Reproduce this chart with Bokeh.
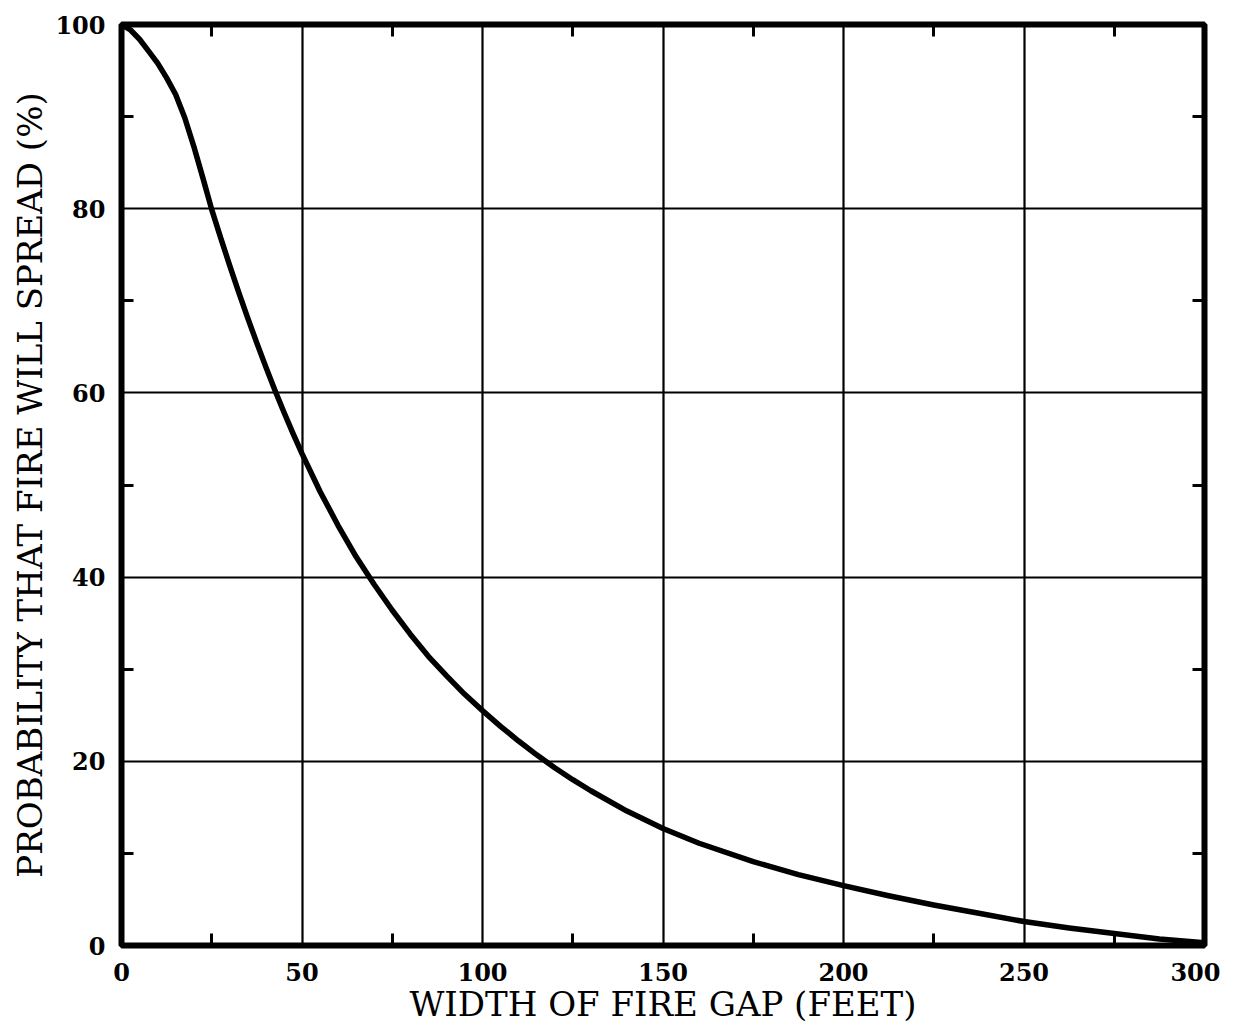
from bokeh.plotting import figure
from bokeh.models import LinearAxis, FixedTicker, Range1d
from bokeh.embed import file_html
from bokeh.resources import INLINE

# Data
gap_ft = [0, 2.5, 5, 7.5, 10, 12.5, 15, 17.5, 20, 22.5, 25, 27.5, 30, 32.5, 35,
          37.5, 40, 42.5, 45, 47.5, 50, 55, 60, 65, 70, 75, 80, 85, 90, 95, 100,
          105, 110, 115, 120, 125, 130, 140, 150, 160, 175, 187.5, 200, 212.5,
          225, 237.5, 250, 262.5, 275, 287.5, 300]
prob_pct = [100, 99.4, 98.4, 97.1, 95.8, 94.2, 92.4, 89.9, 86.8, 83.4, 79.9, 76.8,
            73.8, 70.9, 68.1, 65.4, 62.8, 60.3, 57.9, 55.6, 53.4, 49.3, 45.6, 42.2,
            39.2, 36.4, 33.8, 31.4, 29.3, 27.3, 25.5, 23.8, 22.2, 20.7, 19.3, 18.0,
            16.8, 14.6, 12.7, 11.1, 9.1, 7.7, 6.5, 5.4, 4.4, 3.5, 2.6, 1.9, 1.3,
            0.7, 0.3]

x_major = [0, 50, 100, 150, 200, 250, 300]
x_minor = [25, 75, 125, 175, 225, 275]
y_major = [0, 20, 40, 60, 80, 100]
y_minor = [10, 30, 50, 70, 90]

x_label = "WIDTH OF FIRE GAP (FEET)"
y_label = "PROBABILITY THAT FIRE WILL SPREAD (%)"

FONT = "DejaVu Serif"

p = figure(frame_width=1083, frame_height=921,
           x_range=Range1d(0, 300), y_range=Range1d(0, 100),
           output_backend="svg", toolbar_location=None,
           min_border_left=121, min_border_top=24, min_border_right=16,
           min_border_bottom=74, background_fill_color="white",
           border_fill_color="white")

p.outline_line_color = "black"
p.outline_line_width = 6

xt = FixedTicker(ticks=x_major, minor_ticks=x_minor)
yt = FixedTicker(ticks=y_major, minor_ticks=y_minor)

for ax in (p.xaxis[0], p.yaxis[0]):
    ax.axis_line_color = None
    ax.major_tick_in = 0
    ax.major_tick_out = 0
    ax.minor_tick_in = 12
    ax.minor_tick_out = 0
    ax.minor_tick_line_width = 3
    ax.minor_tick_line_color = "black"
    ax.major_label_text_font = FONT
    ax.major_label_text_font_style = "bold"
    ax.major_label_text_font_size = "24px"
    ax.major_label_text_color = "black"
    ax.major_label_text_line_height = 1.0
    ax.axis_label_text_font = FONT
    ax.axis_label_text_font_style = "normal"
    ax.axis_label_text_font_size = "34px"
    ax.axis_label_text_color = "black"
    ax.axis_label_text_line_height = 1.0

p.xaxis[0].ticker = xt
p.yaxis[0].ticker = yt
p.xaxis[0].axis_label = x_label
p.yaxis[0].axis_label = y_label
p.xaxis[0].major_label_standoff = 17
p.xaxis[0].axis_label_standoff = 0
p.yaxis[0].major_label_standoff = 16
p.yaxis[0].axis_label_standoff = 2

for loc, ticks in (("above", x_minor), ("right", y_minor)):
    ax = LinearAxis(ticker=FixedTicker(ticks=[], minor_ticks=ticks))
    ax.axis_line_color = None
    ax.major_tick_in = 0
    ax.major_tick_out = 0
    ax.minor_tick_in = 12
    ax.minor_tick_out = 0
    ax.minor_tick_line_width = 3
    ax.minor_tick_line_color = "black"
    ax.major_label_standoff = 0
    p.add_layout(ax, loc)

p.xgrid.ticker = xt
p.ygrid.ticker = yt
p.grid.grid_line_color = "black"
p.grid.grid_line_width = 2.2
p.grid.grid_line_alpha = 1.0

p.line(gap_ft, prob_pct, line_width=5.5, line_color="black", line_join="round")

open("out.html", "w").write(file_html(p, INLINE))
